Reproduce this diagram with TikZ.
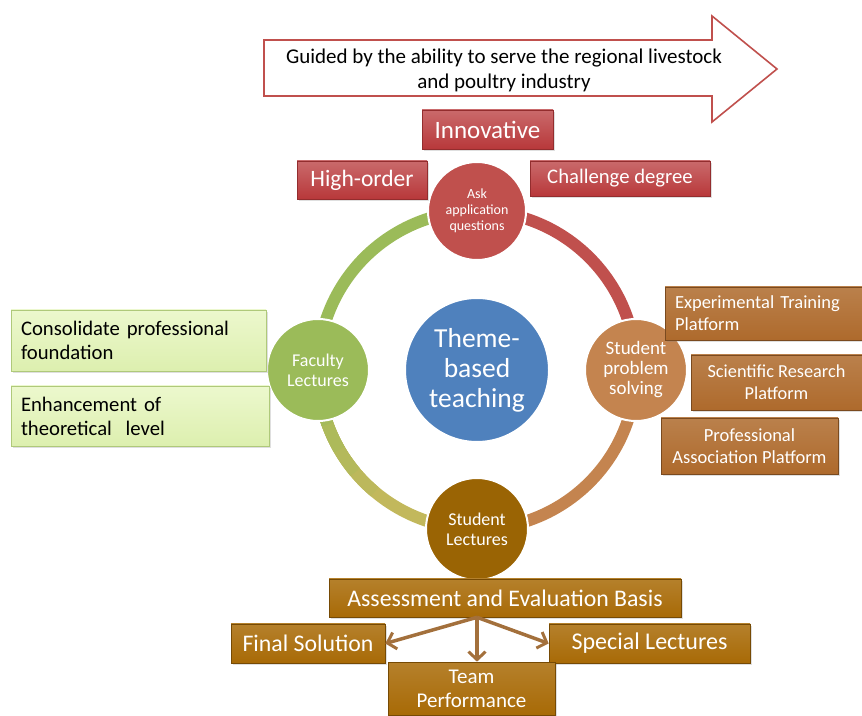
\documentclass[tikz,border=0pt]{standalone}
\usepackage{fontspec}
\setmainfont{Carlito}
\usetikzlibrary{arrows.meta,shadows}

\definecolor{askred}{HTML}{C0504D}
\definecolor{facgreen}{HTML}{9BBB59}
\definecolor{ringolive}{HTML}{C2B85C}
\definecolor{solvebrown}{HTML}{C4844F}
\definecolor{lectgold}{HTML}{9A6404}
\definecolor{themeblue}{HTML}{4F81BD}
\definecolor{boxred}{HTML}{B8383A}
\definecolor{platbrown}{HTML}{AE6A2C}
\definecolor{evalgold}{HTML}{A86A06}
\definecolor{greenbox}{HTML}{E4F5B8}
\definecolor{arrowbrown}{HTML}{A3703C}

\tikzset{
  fsize/.style 2 args={font=\fontsize{#1}{#2}\selectfont},
  ring/.style={line width=12pt, draw=#1},
  hub/.style={circle, fill=#1, draw=white, line width=2pt, text=white,
    align=center, inner sep=0pt},
  shadowed/.style={drop shadow={shadow xshift=2pt, shadow yshift=-2pt, opacity=0.25}},
  redbox/.style={rectangle, shadowed, top color=boxred!75!white, bottom color=boxred,
    draw=boxred!80!black, line width=0.4pt, text=white, inner sep=0pt, align=center},
  browntag/.style={rectangle, shadowed, top color=#1!85!white, bottom color=#1,
    draw=#1!70!black, line width=0.6pt, text=white, inner sep=0pt, align=center},
  greentag/.style={rectangle, shadowed, top color=greenbox!70!white, bottom color=greenbox!90!facgreen,
    draw=facgreen!80, line width=0.6pt, text=black, inner xsep=10pt, align=left},
  fork/.style={draw=arrowbrown, line width=3.5pt,
    -{Straight Barb[length=8pt, width=17pt, line width=3pt]}}
}

\begin{document}
\begin{tikzpicture}[x=1pt, y=1pt]
\useasboundingbox (0,0) rectangle (862,715);

% Banner arrow at the top
\draw[askred, line width=1.6pt, fill=white]
  (264,675) -- (712,675) -- (712,699) -- (777,646) -- (712,593) -- (712,619) -- (264,619) -- cycle;
\node[fsize={21}{25}, align=center] (banner) at (504,645)
  {Guided by the ability to serve the regional livestock\\and poultry industry};

% Ring linking the four stages
\coordinate (hubc) at (477,345);
\coordinate (top) at (477,504);
\coordinate (left) at (318,345);
\coordinate (bot) at (477,186);
\draw[ring=facgreen] (top) arc[start angle=90, end angle=180, radius=159];
\draw[ring=askred] (top) arc[start angle=90, end angle=0, radius=159];
\draw[ring=solvebrown] (bot) arc[start angle=-90, end angle=0, radius=159];
% green fading into olive on the lower left
\foreach \a/\mix in {270/0,230/15,220/35,210/55,200/75,190/90}
  \draw[ring=facgreen!\mix!ringolive] (left) arc[start angle=180, end angle=\a, radius=159];

% Circles
\node[hub=themeblue, minimum size=144pt, fsize={27.5}{30}] (theme) at (hubc) {Theme-\\based\\teaching};
\node[hub=askred, minimum size=98pt, fsize={14}{16}] (ask) at (top) {Ask\\application\\questions};
\node[hub=facgreen, minimum size=102pt, fsize={18}{20}] (faculty) at (left) {Faculty\\Lectures};
\node[hub=solvebrown, minimum size=102pt, fsize={19}{20}] (solve) at (636,345) {Student\\problem\\solving};
\node[hub=lectgold, minimum size=102pt, fsize={18}{20}] (lect) at (bot) {Student\\Lectures};

% Red tags round the top circle
\node[redbox, minimum width=131pt, minimum height=39pt, fsize={25}{28}] (innov) at (487.5,585.5) {Innovative};
\node[redbox, minimum width=130pt, minimum height=38pt, fsize={23.5}{28}] (high) at (362,535) {High-order};
\node[redbox, minimum width=180pt, minimum height=35pt, fsize={20.7}{24}] (chal) at (620,536.5) {Challenge degree};

% Green tags on the left
\node[greentag, text width=235pt, minimum height=61pt, fsize={20.7}{24}] (consol) at (138.5,374.5)
  {Consolidate professional\\foundation};
\node[greentag, text width=238pt, minimum height=60pt, fsize={20.7}{24}] (enhance) at (140,299)
  {Enhancement of\\theoretical~ level};

% Platforms on the right
\node[browntag=platbrown, minimum width=197pt, minimum height=53pt, fsize={18.5}{22}, align=left,
  text width=177pt] (exper) at (763.5,401.5) {Experimental Training\\Platform};
\node[browntag=platbrown, minimum width=171pt, minimum height=55pt, fsize={18.3}{22}] (sci) at (776.5,332.5)
  {Scientific Research\\Platform};
\node[browntag=platbrown, minimum width=177pt, minimum height=56pt, fsize={18.5}{22}] (prof) at (749.5,269)
  {Professional\\Association Platform};

% Evaluation block at the bottom
\node[browntag=evalgold, minimum width=352pt, minimum height=38pt, fsize={23.8}{26}] (assess) at (505,117)
  {Assessment and Evaluation Basis};
\node[browntag=evalgold, minimum width=154pt, minimum height=39pt, fsize={23.8}{26}] (final) at (308,71.5)
  {Final Solution};
\node[browntag=evalgold, minimum width=201pt, minimum height=39pt, fsize={24}{26}] (special) at (649.5,71.5)
  {Special Lectures};
\node[browntag=evalgold, minimum width=167pt, minimum height=53pt, fsize={21}{24}] (team) at (471.5,26.5)
  {Team\\Performance};

\coordinate (split) at (assess.south -| lect);
\draw[fork] (split) -- (final.east);
\draw[fork] (split) -- (team.north -| split);
\draw[fork] (split) -- (special.west);

\end{tikzpicture}
\end{document}
